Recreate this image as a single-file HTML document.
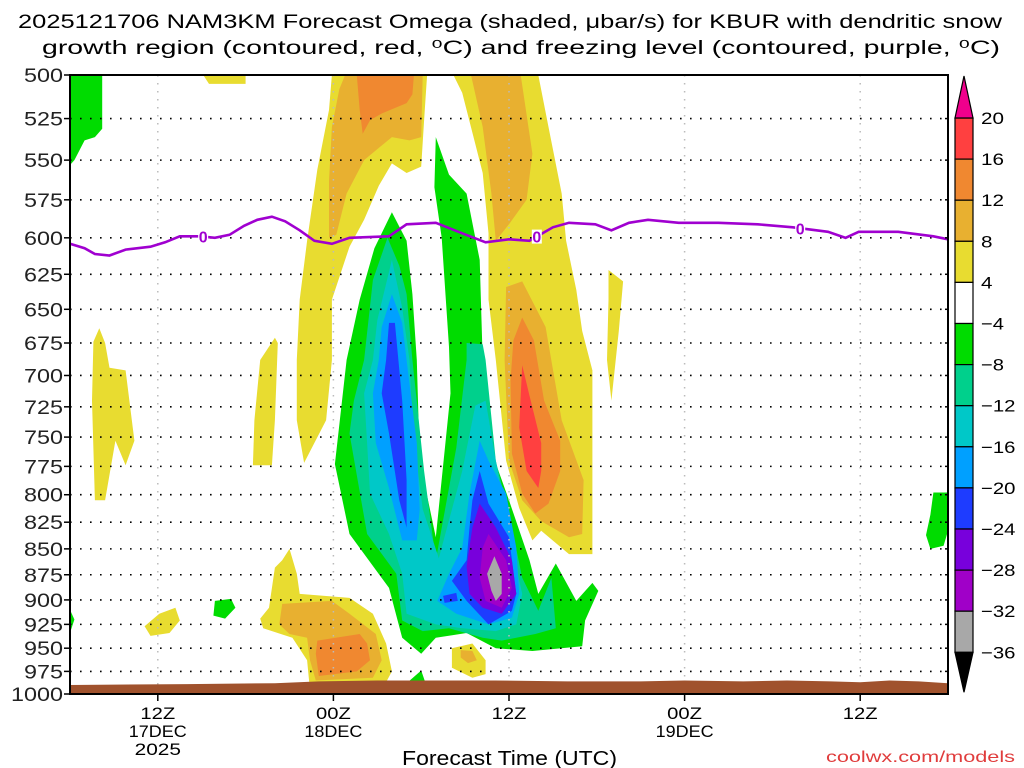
<!DOCTYPE html>
<html><head><meta charset="utf-8"><style>
html,body{margin:0;padding:0;background:#fff;width:1024px;height:768px;overflow:hidden}
svg{display:block}
text{font-family:"Liberation Sans",sans-serif;fill:#000}
</style></head><body>
<svg id="chart" width="1024" height="768" viewBox="0 0 1024 768" xmlns="http://www.w3.org/2000/svg">
<g>
<text x="18" y="28" font-size="19" textLength="984" lengthAdjust="spacingAndGlyphs">2025121706 NAM3KM Forecast Omega (shaded, μbar/s) for KBUR with dendritic snow</text>
<text x="42" y="54" font-size="19" textLength="958" lengthAdjust="spacingAndGlyphs">growth region (contoured, red, ⁰C) and freezing level (contoured, purple, ⁰C)</text>
</g>
<g id="fills"></g>
<g id="grid"></g>
<g id="ground"></g>
<g id="frz"></g>
<g id="axes"></g>
<g id="cbar"></g>
<text x="402" y="765" font-size="20" textLength="215" lengthAdjust="spacingAndGlyphs">Forecast Time (UTC)</text>
<text x="826" y="762" font-size="16" textLength="189" lengthAdjust="spacingAndGlyphs" style="fill:#e03c3c">coolwx.com/models</text>
</svg>
<script>
// ---- data ----
const pressureTicks=[500,525,550,575,600,625,650,675,700,725,750,775,800,825,850,875,900,925,950,975,1000];
const timeTickHours=[12,24,36,48,60];
const timeTickLine1=["12Z","00Z","12Z","00Z","12Z"];
const timeTickLine2=["17DEC","18DEC","","19DEC",""];
const timeTickLine3=["2025","","","",""];
const levelBounds=[-36,-32,-28,-24,-20,-16,-12,-8,-4,4,8,12,16,20];
const levelColors=["#000000","#a8a8a8","#a000c8","#7800dc","#1e3cff","#00a0ff","#00c8c8","#00d08c","#00dc00","#ffffff","#e8dc30","#e8b030","#f08830","#ff4040","#f0008c"];
const levelLabels=["20","16","12","8","4","−4","−8","−12","−16","−20","−24","−28","−32","−36"];
// contour polygons: [hour, hPa]
const greenTopLeft=[[6,500],[8.2,500],[8.2,531],[7.7,536],[7.0,538],[6.3,550],[6,553]];
const greenEdgeLeft=[[6,910],[6.3,920],[6,934]];
const yellowTopSmall=[[15.1,500],[18.0,500],[18.0,505],[15.5,505]];
const yellowArchLeft=[[23.9,500],[30.4,500],[30.2,526],[30.0,554],[29.0,558],[28.0,552],[27.1,566],[26.1,588],[25.1,606],[23.9,643],[23.9,688],[23.5,736],[22.0,772],[21.5,736],[21.5,688],[21.7,643],[22.2,602],[22.9,556],[23.7,520]];
const ochreArchLeft=[[24.8,500],[30.1,500],[30.0,536],[29.2,538],[28.0,536],[26.1,550],[24.9,571],[24.2,598],[23.7,600],[23.7,563],[23.9,530],[24.4,508]];
const orangeArchLeft=[[25.6,500],[29.5,500],[29.4,511],[29.0,516],[27.3,522],[26.5,526],[26.0,534],[25.8,520]];
const yellowArchRight=[[32.2,500],[38.0,500],[38.7,530],[39.6,571],[39.9,602],[40.6,636],[41.0,666],[41.7,696],[41.7,855],[40.1,855],[38.2,833],[37.6,842],[36.7,812],[35.8,770],[35.1,688],[34.6,643],[34.6,597],[34.2,558],[32.8,510]];
const ochreArchRight=[[33.4,500],[36.8,500],[37.6,546],[37.2,575],[36.0,591],[35.1,602],[34.8,571],[34.2,530]];
const ochreRightLow=[[35.8,634],[36.9,630],[38.5,663],[39.6,736],[41.1,787],[41.0,836],[40.1,839],[38.2,824],[36.9,805],[36.0,770],[35.7,688]];
const orangeRightLow=[[36.9,656],[37.7,673],[38.4,720],[39.5,753],[39.5,779],[38.7,808],[37.8,817],[36.9,799],[36.2,764],[36.1,704],[36.3,673]];
const redRightLow=[[36.9,692],[37.4,716],[38.2,755],[38.2,779],[38.0,794],[37.2,779],[36.7,742]];
const yellowStripRight=[[42.8,622],[43.8,630],[43.5,666],[43.0,720],[42.7,688],[42.8,643]];
const greenMain=[[28.0,583],[29.0,602],[29.4,639],[29.7,688],[29.9,770],[31.0,839],[32.0,714],[31.9,678],[31.4,600],[30.9,567],[31.0,536],[31.9,559],[33.1,571],[34.0,615],[34.2,688],[34.6,755],[36.0,805],[37.4,861],[38.0,894],[39.2,864],[40.6,901],[41.7,883],[42.1,891],[41.2,921],[41.0,948],[37.6,953],[35.1,950],[33.1,934],[31.0,939],[30.0,956],[28.7,939],[27.8,888],[25.1,836],[24.1,773],[24.9,688],[25.8,643],[26.8,607]];
const tealMain=[[27.7,600],[28.5,619],[29.0,639],[29.4,688],[30.2,779],[31.0,861],[32.4,759],[33.1,688],[33.1,675],[34.2,676],[34.4,688],[35.1,770],[36.2,830],[36.9,878],[38.0,911],[38.9,878],[39.2,929],[37.8,935],[35.5,942],[34.2,939],[31.9,929],[30.1,932],[28.7,921],[28.3,874],[26.3,836],[25.1,747],[25.4,720],[26.1,688],[26.7,629]];
const cyanMain=[[28.0,615],[28.7,649],[29.2,688],[29.4,742],[30.1,813],[31.2,859],[32.8,779],[33.7,724],[34.4,720],[35.1,770],[36.2,849],[36.9,894],[36.5,925],[35.1,932],[32.8,929],[31.0,925],[29.0,914],[28.7,874],[27.8,836],[26.5,799],[26.3,755],[26.1,714],[26.7,688],[27.0,658]];
const lightBlueLeft=[[28.0,639],[28.7,660],[29.0,688],[29.7,755],[29.9,813],[29.7,842],[28.7,842],[27.8,794],[26.9,755],[26.7,714],[27.1,688],[27.3,663]];
const lightBlueRight=[[34.0,753],[34.6,770],[35.8,799],[36.5,849],[36.7,894],[36.2,918],[34.6,925],[32.4,914],[31.1,901],[31.9,874],[32.8,849],[33.3,799]];
const blueLeft=[[27.8,660],[28.2,660],[28.7,720],[29.0,787],[29.0,830],[28.5,805],[27.8,747],[27.3,714],[27.6,688]];
const blueRight=[[34.0,779],[34.6,808],[36.0,839],[36.5,894],[36.2,911],[34.6,925],[33.1,901],[32.1,881],[33.1,861],[33.3,830],[33.5,805]];
const blueDot=[[31.5,896],[32.4,893],[32.5,901],[31.6,903]];
const purpleCore=[[34.0,808],[35.1,830],[36.2,861],[36.5,894],[35.5,914],[34.2,908],[33.3,894],[33.1,867],[33.5,830]];
const magentaCore=[[34.6,836],[35.8,861],[36.2,888],[35.5,908],[34.4,901],[34.0,878],[34.2,849]];
const grayCore=[[35.0,857],[35.5,874],[35.5,894],[35.1,901],[34.8,891],[34.5,874]];
const yellowLowLeft=[[21.0,850],[21.5,874],[21.7,894],[25.1,898],[26.7,914],[27.6,945],[28.0,975],[27.3,996],[22.4,996],[22.2,963],[21.2,939],[19.2,929],[19.0,919],[19.6,908],[20.0,868],[20.5,861]];
const ochreLowLeft=[[20.5,904],[23.9,901],[25.1,914],[26.9,935],[27.3,963],[26.7,982],[22.8,985],[22.4,963],[22.2,939],[21.0,935],[20.3,925]];
const orangeLowLeft=[[22.9,942],[25.8,935],[26.3,945],[26.5,963],[25.6,975],[23.0,980],[22.8,956]];
const yellowBlobLow=[[32.1,950],[33.5,945],[34.4,963],[34.4,978],[33.5,982],[32.1,971]];
const ochreBlobLow=[[32.7,952],[33.5,953],[33.8,963],[33.2,966],[32.7,960]];
const greenBlobLow=[[29.0,988],[30.0,974],[30.3,988],[30.3,996],[29.0,996]];
const yellowLeft=[[8.0,664],[8.4,675],[8.7,694],[9.8,696],[10.4,753],[9.8,774],[9.1,753],[8.4,805],[7.7,805],[7.5,720],[7.6,674]];
const yellowStripMid=[[20.0,671],[20.2,675],[20.0,736],[19.8,774],[18.5,774],[18.6,736],[19.0,688]];
const yellowSmallLow=[[11.1,927],[12.1,914],[13.2,908],[13.5,921],[12.8,934],[11.5,937]];
const greenSmallLow=[[15.9,901],[17.0,899],[17.3,908],[16.6,919],[15.8,916]];
const greenRight=[[65.0,798],[66,798],[66,833],[65.7,847],[64.8,850],[64.5,837],[64.8,818]];
const shapes=[
 [greenTopLeft,-6],[greenEdgeLeft,-6],[yellowTopSmall,6],[yellowArchLeft,6],[ochreArchLeft,10],[orangeArchLeft,14],
 [yellowArchRight,6],[ochreArchRight,10],[ochreRightLow,10],[orangeRightLow,14],[redRightLow,18],[yellowStripRight,6],
 [greenMain,-6],[tealMain,-10],[cyanMain,-14],[lightBlueLeft,-18],[lightBlueRight,-18],[blueLeft,-22],[blueRight,-22],[blueDot,-22],
 [purpleCore,-26],[magentaCore,-30],[grayCore,-34],
 [yellowLowLeft,6],[ochreLowLeft,10],[orangeLowLeft,14],[yellowBlobLow,6],[ochreBlobLow,10],[greenBlobLow,-6],
 [yellowLeft,6],[yellowStripMid,6],[yellowSmallLow,6],[greenSmallLow,-6],[greenRight,-6]
];
const shapeNames=["green-top-left","green-edge-left","yellow-top-small","yellow-arch-left","ochre-arch-left","orange-arch-left",
 "yellow-arch-right","ochre-arch-right","ochre-right-low","orange-right-low","red-right-low","yellow-strip-right",
 "green-main","teal-main","cyan-main","lightblue-left","lightblue-right","blue-left","blue-right","blue-dot",
 "purple-core","magenta-core","gray-core","yellow-low-left","ochre-low-left","orange-low-left","yellow-blob-low","ochre-blob-low","green-blob-low",
 "yellow-left","yellow-strip-mid","yellow-small-low","green-small-low","green-right"];
const frzHours=[6,7,7.7,8.7,9.8,11.5,12.5,13.5,14.9,15.9,16.9,17.9,18.8,19.8,20.7,21.7,22.7,23.9,25.1,27.8,29.0,31.0,32.8,34.4,36.0,37.4,39.0,40.1,41.9,43.0,44.2,45.5,47.6,50.3,53.0,55.4,57.8,59.0,59.9,62.6,65.0,66];
const frzPres=[604,607,611,612,608,606,603,599,599,600,598,592,588,586,589,595,602,604,600,599,591,590,597,603,601,602,593,590,591,595,590,588,590,590,591,593,596,600,596,596,599,601];
const frzLabelHours=[15.1,37.9,55.9];
const groundHours=[6,14,20,23,27,30,35,40,45,48,52,55,58,60,62,64,66];
const groundPres=[990,989,988,986,985,985,985,986,986,985,986,985,986,987,985,986,988];

// ---- axes ----
const X0=70,X1=948,Y0=75,Y1=694,H0=6,H1=66;
function xScale(h){return X0+(h-H0)*(X1-X0)/(H1-H0);}
function yScale(p){return Y0+(Y1-Y0)*Math.log(p/500)/Math.log(2);}
function colorFor(v){let i=0;while(i<levelBounds.length&&v>levelBounds[i])i++;return levelColors[i];}
const NS="http://www.w3.org/2000/svg";
function mk(tag,attrs,parent){const e=document.createElementNS(NS,tag);for(const k in attrs)e.setAttribute(k,attrs[k]);parent.appendChild(e);return e;}

const clip=mk("clipPath",{id:"plotclip"},document.getElementById("chart"));
mk("rect",{x:X0,y:Y0,width:X1-X0,height:Y1-Y0},clip);
const fills=document.getElementById("fills");
fills.setAttribute("clip-path","url(#plotclip)");
shapes.forEach((s,i)=>{
 const pts=s[0].map(d=>xScale(d[0]).toFixed(1)+","+yScale(d[1]).toFixed(1)).join(" ");
 const el=mk("polygon",{points:pts,fill:colorFor(s[1])},fills);
 
 
});

const grid=document.getElementById("grid");
pressureTicks.forEach(p=>{
 if(p===500||p===1000)return;
 const el=mk("line",{x1:X0,x2:X1,y1:yScale(p),y2:yScale(p),stroke:"#000","stroke-width":1.6,"stroke-dasharray":"1.6 8.4"},grid);
 
 
});
timeTickHours.forEach(h=>{
 const el=mk("line",{x1:xScale(h),x2:xScale(h),y1:Y0,y2:Y1,stroke:"#bbb","stroke-width":1.5,"stroke-dasharray":"1.5 6.5"},grid);
 
 
});

const ground=document.getElementById("ground");
let gp="M"+X0+","+(Y1)+" ";
groundHours.forEach((h,i)=>{gp+="L"+xScale(h).toFixed(1)+","+yScale(groundPres[i]).toFixed(1)+" ";});
gp+="L"+X1+","+Y1+" Z";
const gEl=mk("path",{d:gp,fill:"#a0522d"},ground);



const frz=document.getElementById("frz");
const fl=mk("polyline",{points:frzHours.map((h,i)=>xScale(h).toFixed(1)+","+yScale(frzPres[i]).toFixed(1)).join(" "),fill:"none",stroke:"#a000d0","stroke-width":2.6},frz);


frzLabelHours.forEach(h=>{
 let j=0;while(j<frzHours.length-1&&frzHours[j+1]<h)j++;
 const t=(h-frzHours[j])/(frzHours[j+1]-frzHours[j]);
 const p=frzPres[j]+t*(frzPres[j+1]-frzPres[j]);
 const cx=xScale(h),cy=yScale(p);
 const bg=mk("rect",{x:cx-5,y:cy-7,width:10,height:14,fill:"#fff"},frz);
 
 
 const tx=mk("text",{x:cx,y:cy+6,"font-size":16,"text-anchor":"middle",style:"fill:#a000d0;font-weight:bold"},frz);
 tx.textContent="0";
 
 
});

const axes=document.getElementById("axes");
const fr=mk("rect",{x:X0,y:Y0,width:X1-X0,height:Y1-Y0,fill:"none",stroke:"#000","stroke-width":2},axes);


pressureTicks.forEach(p=>{
 const y=yScale(p);
 const tk=mk("line",{x1:X0-6,x2:X0,y1:y,y2:y,stroke:"#000","stroke-width":1.5},axes);
 
 
 const tk2=mk("line",{x1:X1-3,x2:X1,y1:y,y2:y,stroke:"#000","stroke-width":1.5},axes);
 
 
 const s=String(p);
 const t=mk("text",{x:63,y:y+7,"font-size":19,"text-anchor":"end",textLength:s.length*13,lengthAdjust:"spacingAndGlyphs",style:"fill:#222"},axes);
 t.textContent=s;
 
 
});
timeTickHours.forEach((h,i)=>{
 const x=xScale(h);
 const tk=mk("line",{x1:x,x2:x,y1:Y1,y2:Y1+7,stroke:"#000","stroke-width":1.5},axes);
 
 
 [timeTickLine1[i],timeTickLine2[i],timeTickLine3[i]].forEach((s,k)=>{
  if(!s)return;
  const t=mk("text",{x:x,y:719+k*18,"font-size":17,"text-anchor":"middle",textLength:s.length*11.6,lengthAdjust:"spacingAndGlyphs"},axes);
  t.textContent=s;
  
  
 });
});

// colorbar
const cb=document.getElementById("cbar");
const CBX=955,CBW=18,CBTOP=118,STEP=41.1;
const boxColors=levelColors.slice(1,14).reverse();
boxColors.forEach((c,i)=>{
 const r=mk("rect",{x:CBX,y:CBTOP+i*STEP,width:CBW,height:STEP,fill:c,stroke:"#000","stroke-width":1.2},cb);
 
 
});
const bottomY=CBTOP+13*STEP;
const tri1=mk("polygon",{points:`${CBX},${CBTOP} ${CBX+CBW},${CBTOP} ${CBX+CBW/2},${CBTOP-42}`,fill:levelColors[14],stroke:"#000","stroke-width":1.2},cb);


const tri2=mk("polygon",{points:`${CBX},${bottomY} ${CBX+CBW},${bottomY} ${CBX+CBW/2},${bottomY+40}`,fill:levelColors[0],stroke:"#000","stroke-width":1.2},cb);


levelLabels.forEach((s,i)=>{
 const t=mk("text",{x:981,y:CBTOP+i*STEP+6,"font-size":17,textLength:s.length*11.5,lengthAdjust:"spacingAndGlyphs"},cb);
 t.textContent=s;
 
 
});
</script>
</body></html>
